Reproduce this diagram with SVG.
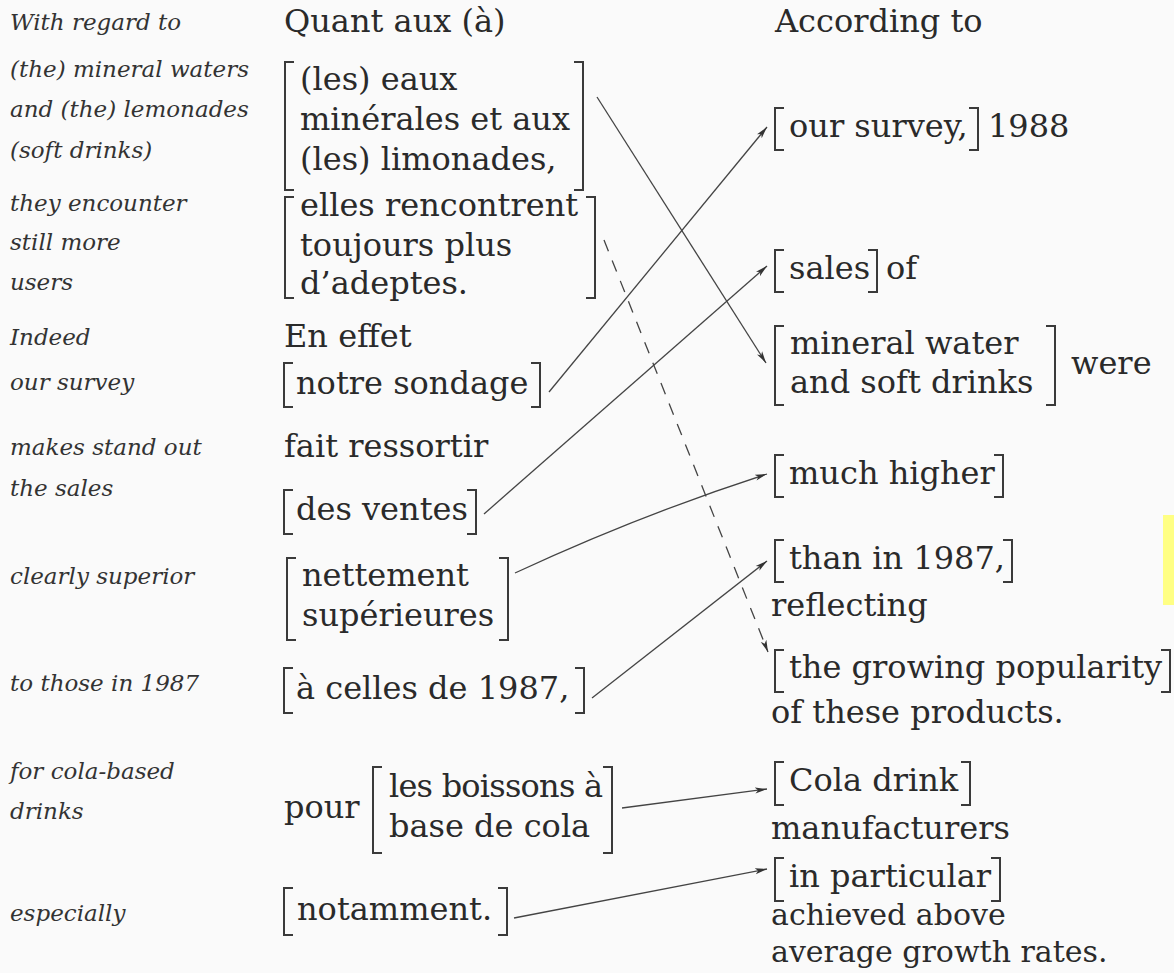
<svg xmlns="http://www.w3.org/2000/svg" width="1174" height="973" viewBox="0 0 1174 973">
<defs>
<style>
.g{font-family:"DejaVu Serif","Liberation Serif",serif;font-style:italic;font-size:23px;fill:#333}
.t{font-family:"DejaVu Serif","Liberation Serif",serif;font-size:32px;fill:#2a2a2a}
.s{font-size:30px}
.br{fill:none;stroke:#3a3a3a;stroke-width:2}
.c{fill:none;stroke:#444;stroke-width:1.3}
.d{fill:none;stroke:#444;stroke-width:1.3;stroke-dasharray:12 10}
</style>
<marker id="ah" viewBox="0 0 12 8" refX="12" refY="4" markerWidth="12" markerHeight="8" markerUnits="userSpaceOnUse" orient="auto">
<path d="M0,1 L12,4 L0,7 L3,4 Z" fill="#333"/>
</marker>
</defs>
<rect width="1174" height="973" fill="#fafafa"/>
<rect x="1163" y="515" width="11" height="90" fill="#ffff84"/>

<g id="glosses">
<text class="g" x="10" y="30">With regard to</text>
<text class="g" x="10" y="77">(the) mineral waters</text>
<text class="g" x="10" y="117">and (the) lemonades</text>
<text class="g" x="10" y="158">(soft drinks)</text>
<text class="g" x="10" y="211">they encounter</text>
<text class="g" x="10" y="250">still more</text>
<text class="g" x="10" y="290">users</text>
<text class="g" x="10" y="345">Indeed</text>
<text class="g" x="10" y="390">our survey</text>
<text class="g" x="10" y="455">makes stand out</text>
<text class="g" x="10" y="496">the sales</text>
<text class="g" x="10" y="584">clearly superior</text>
<text class="g" x="10" y="691">to those in 1987</text>
<text class="g" x="10" y="779">for cola-based</text>
<text class="g" x="10" y="819">drinks</text>
<text class="g" x="10" y="921">especially</text>
</g>

<g id="fr-quant"><text class="t" x="284" y="32">Quant aux (à)</text></g>
<g id="fr-eaux">
<path class="br" d="M294,62 H285 V190 H294 M574,62 H583 V190 H574"/>
<text class="t" x="300" y="90">(les) eaux</text>
<text class="t" x="300" y="130">minérales et aux</text>
<text class="t" x="300" y="170">(les) limonades,</text>
</g>
<g id="fr-elles">
<path class="br" d="M294,197 H285 V298 H294 M586,197 H595 V298 H586"/>
<text class="t" x="300" y="216">elles rencontrent</text>
<text class="t" x="300" y="256">toujours plus</text>
<text class="t" x="300" y="294">d’adeptes.</text>
</g>
<g id="fr-effet"><text class="t" x="284" y="347">En effet</text></g>
<g id="fr-sondage">
<path class="br" d="M293,363 H284 V407 H293 M531,363 H540 V407 H531"/>
<text class="t" x="296" y="394">notre sondage</text>
</g>
<g id="fr-fait"><text class="t" x="284" y="457">fait ressortir</text></g>
<g id="fr-ventes">
<path class="br" d="M293,490 H284 V534 H293 M467,490 H476 V534 H467"/>
<text class="t" x="296" y="520">des ventes</text>
</g>
<g id="fr-nettement">
<path class="br" d="M296,558 H287 V640 H296 M499,558 H508 V640 H499"/>
<text class="t" x="302" y="586">nettement</text>
<text class="t" x="302" y="626">supérieures</text>
</g>
<g id="fr-celles">
<path class="br" d="M293,668 H284 V713 H293 M575,668 H584 V713 H575"/>
<text class="t" x="296" y="699">à celles de 1987,</text>
</g>
<g id="fr-boissons">
<text class="t" x="284" y="818">pour</text>
<path class="br" d="M382,767 H373 V853 H382 M603,767 H612 V853 H603"/>
<text class="t" x="389" y="797" textLength="214">les boissons à</text>
<text class="t" x="389" y="837">base de cola</text>
</g>
<g id="fr-notamment">
<path class="br" d="M293,888 H284 V935 H293 M498,888 H507 V935 H498"/>
<text class="t" x="297" y="920">notamment.</text>
</g>

<g id="en-according"><text class="t" x="775" y="32">According to</text></g>
<g id="en-survey">
<path class="br" d="M784,108 H775 V150 H784 M969,108 H978 V150 H969"/>
<text class="t" x="789" y="137">our survey,</text>
<text class="t" x="988" y="137">1988</text>
</g>
<g id="en-sales">
<path class="br" d="M784,250 H775 V292 H784 M868,250 H877 V292 H868"/>
<text class="t" x="789" y="279">sales</text>
<text class="t" x="886" y="279">of</text>
</g>
<g id="en-mineral">
<path class="br" d="M784,326 H775 V405 H784 M1046,326 H1055 V405 H1046"/>
<text class="t" x="790" y="354">mineral water</text>
<text class="t" x="790" y="393">and soft drinks</text>
<text class="t" x="1071" y="374">were</text>
</g>
<g id="en-higher">
<path class="br" d="M784,455 H775 V497 H784 M994,455 H1003 V497 H994"/>
<text class="t" x="789" y="484">much higher</text>
</g>
<g id="en-than">
<path class="br" d="M784,540 H775 V582 H784 M1003,540 H1012 V582 H1003"/>
<text class="t" x="789" y="569">than in 1987,</text>
<text class="t" x="771" y="616">reflecting</text>
</g>
<g id="en-popularity">
<path class="br" d="M784,650 H775 V692 H784 M1161,650 H1170 V692 H1161"/>
<text class="t" x="789" y="678">the growing popularity</text>
<text class="t" x="771" y="723">of these products.</text>
</g>
<g id="en-cola">
<path class="br" d="M784,762 H775 V805 H784 M961,762 H970 V805 H961"/>
<text class="t" x="789" y="791">Cola drink</text>
<text class="t" x="771" y="839">manufacturers</text>
</g>
<g id="en-particular">
<path class="br" d="M784,858 H775 V901 H784 M991,858 H1000 V901 H991"/>
<text class="t" x="789" y="887">in particular</text>
<text class="t s" x="771" y="925">achieved above</text>
<text class="t s" x="771" y="962">average growth rates.</text>
</g>

<g id="connectors">
<path class="c" d="M597,97 L766,363" marker-end="url(#ah)"/>
<path class="c" d="M549,392 L767,127" marker-end="url(#ah)"/>
<path class="c" d="M484,514 L767,266" marker-end="url(#ah)"/>
<path class="c" d="M515,573 Q640,515 767,474" marker-end="url(#ah)"/>
<path class="c" d="M592,698 L767,561" marker-end="url(#ah)"/>
<path class="d" d="M604,240 L768,652" marker-end="url(#ah)"/>
<path class="c" d="M622,808 L767,789" marker-end="url(#ah)"/>
<path class="c" d="M514,918 L767,869" marker-end="url(#ah)"/>
</g>
</svg>
